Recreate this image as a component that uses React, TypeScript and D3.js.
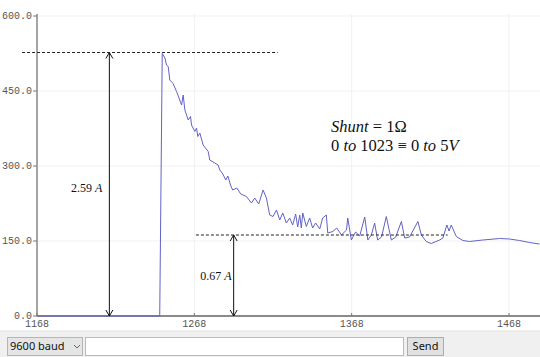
import React from "react";
import * as d3 from "d3";

const samples = [1168, 1246, 1247.6, 1249.3, 1250.3, 1251.4, 1252.4, 1254.5, 1256.7, 1259.9, 1260.9, 1262, 1264.1, 1265.6, 1266.2, 1268.3, 1269.4, 1270.2, 1271.5, 1273.6, 1276.8, 1277.8, 1281, 1283.1, 1284.2, 1286.1, 1288, 1289.3, 1291.2, 1292.4, 1295, 1297.5, 1301.1, 1304.3, 1306.4, 1308.9, 1311.7, 1313.8, 1315.9, 1318, 1320.2, 1322.3, 1324.2, 1326.5, 1328.6, 1330.5, 1332.4, 1333.7, 1335, 1336, 1336.9, 1339.2, 1341.3, 1343.2, 1345.1, 1347.7, 1349.6, 1351.9, 1352.8, 1356, 1358.5, 1361.5, 1364.7, 1365.5, 1367.8, 1370.5, 1373.1, 1376.3, 1378.3, 1380.5, 1382.6, 1384.5, 1387, 1390, 1393.2, 1396, 1399.6, 1401.7, 1404.8, 1410.1, 1412.3, 1415.4, 1418.6, 1423.9, 1426, 1428.5, 1429.9, 1431.3, 1434.5, 1438.7, 1442.9, 1451.4, 1462, 1468.3, 1474.7, 1481, 1487.4];
const values = [0, 0, 525, 516, 502, 499, 472, 465, 449, 422, 442, 412, 392, 399, 382, 369, 376, 359, 366, 342, 329, 312, 306, 302, 292, 284, 272, 280, 260, 252, 256, 244, 239, 226, 236, 224, 252, 236, 202, 199, 212, 192, 206, 186, 196, 182, 204, 178, 202, 176, 206, 179, 196, 176, 186, 174, 196, 202, 166, 169, 176, 162, 172, 196, 152, 168, 160, 198, 152, 162, 186, 152, 158, 199, 152, 158, 189, 156, 158, 189, 162, 149, 145, 152, 156, 182, 170, 182, 159, 151, 149, 152, 155, 154, 151, 147, 144];

const xTicks = [1168, 1268, 1368, 1468];
const yTicks = [0, 150, 300, 450, 600];

// annotations (data coordinates)
const peakLevel = 527;
const steadyLevel = 162;
const peakDash = [1158.5, 1321];
const steadyDash = [1269, 1429];
const peakArrowX = 1214;
const steadyArrowX = 1293;

export default function App() {
  const x = d3.scaleLinear().domain([1168, 1468]).range([37, 509]);
  const y = d3.scaleLinear().domain([0, 600]).range([316, 16]);
  const pts: [number, number][] = samples.map((s, i) => [s, values[i]]);
  const line = d3
    .line<[number, number]>()
    .x((d) => x(d[0]))
    .y((d) => y(d[1]));

  const arrow = (ax: number, y1: number, y2: number) => {
    const px = x(ax);
    return (
      <g stroke="#111" strokeWidth={1} fill="none">
        <line x1={px} x2={px} y1={y1} y2={y2} />
        <polyline points={`${px - 3.5},${y1 + 6} ${px},${y1} ${px + 3.5},${y1 + 6}`} />
        <polyline points={`${px - 3.5},${y2 - 6} ${px},${y2} ${px + 3.5},${y2 - 6}`} />
      </g>
    );
  };

  const mono = "'Liberation Mono', 'DejaVu Sans Mono', monospace";
  const serif = "'Liberation Serif', 'DejaVu Serif', serif";
  const ui = "'Noto Sans', 'DejaVu Sans', sans-serif";

  return (
    <div style={{ position: "fixed", left: 0, top: 0 }}>
      <svg width={540} height={357} style={{ display: "block", background: "#fff" }}>
        {/* grid */}
        {xTicks.map((t) => (
          <line key={"gx" + t} x1={x(t)} x2={x(t)} y1={14} y2={316} stroke="#f1f1f1" />
        ))}
        {yTicks.map((t) => (
          <line key={"gy" + t} x1={37} x2={540} y1={y(t)} y2={y(t)} stroke="#f1f1f1" />
        ))}
        {/* axes */}
        <line x1={37} x2={37} y1={14} y2={316} stroke="#8a8a8a" strokeWidth={1.5} />
        <line x1={37} x2={540} y1={316} y2={316} stroke="#8a8a8a" strokeWidth={2} />
        {yTicks.map((t) => (
          <g key={"ty" + t}>
            <line x1={33} x2={37} y1={y(t)} y2={y(t)} stroke="#777" />
            <text x={32} y={y(t)} dy="0.3em" textAnchor="end" fontFamily={mono} fontSize={10} fill="#555">
              {t.toFixed(1)}
            </text>
          </g>
        ))}
        {xTicks.map((t) => (
          <g key={"tx" + t}>
            <line x1={x(t)} x2={x(t)} y1={313} y2={316} stroke="#777" />
            <text x={x(t)} y={323} dy="0.35em" textAnchor="middle" fontFamily={mono} fontSize={10} fill="#555">
              {t}
            </text>
          </g>
        ))}
        {/* data line */}
        <path d={line(pts) || ""} fill="none" stroke="#6262c8" strokeWidth={1} />
        {/* dashed guides */}
        <line x1={x(peakDash[0])} x2={x(peakDash[1])} y1={y(peakLevel)} y2={y(peakLevel)} stroke="#222" strokeDasharray="3,2" />
        <line x1={x(steadyDash[0])} x2={x(steadyDash[1])} y1={y(steadyLevel)} y2={y(steadyLevel)} stroke="#222" strokeDasharray="3,2" />
        {arrow(peakArrowX, y(peakLevel), y(0))}
        {arrow(steadyArrowX, y(steadyLevel), y(0))}
        <text x={x(peakArrowX) - 7} y={192} textAnchor="end" fontFamily={serif} fontSize={12} fill="#111">
          2.59 <tspan fontStyle="italic">A</tspan>
        </text>
        <text x={x(steadyArrowX) - 2} y={280} textAnchor="end" fontFamily={serif} fontSize={12} fill="#111">
          0.67 <tspan fontStyle="italic">A</tspan>
        </text>
        <text x={331} y={132} fontFamily={serif} fontSize={16.5} fill="#111">
          <tspan fontStyle="italic">Shunt</tspan> = 1Ω
        </text>
        <text x={331} y={151} fontFamily={serif} fontSize={16.5} fill="#111">
          0 <tspan fontStyle="italic">to</tspan> 1023 ≡ 0 <tspan fontStyle="italic">to</tspan> 5<tspan fontStyle="italic">V</tspan>
        </text>
        {/* footer */}
        <rect x={0} y={331} width={540} height={26} fill="#f0f0f0" />
        <line x1={0} x2={540} y1={331} y2={331} stroke="#e2e2e2" />
        <rect x={7.5} y={337.5} width={75} height={18} fill="#e5e5e5" stroke="#b5b5b5" />
        <text x={10} y={346.5} dy="0.35em" fontFamily={ui} fontSize={11} fill="#111">
          9600 baud
        </text>
        <polyline points="74,345 77,348 80,345" fill="none" stroke="#666" strokeWidth={1} />
        <rect x={85.5} y={337.5} width={318} height={18} fill="#fff" stroke="#bbb" />
        <rect x={407.5} y={337.5} width={36} height={18} fill="#e1e1e1" stroke="#adadad" />
        <text x={425.5} y={346.5} dy="0.35em" textAnchor="middle" fontFamily={ui} fontSize={11} fill="#111">
          Send
        </text>
      </svg>
    </div>
  );
}
